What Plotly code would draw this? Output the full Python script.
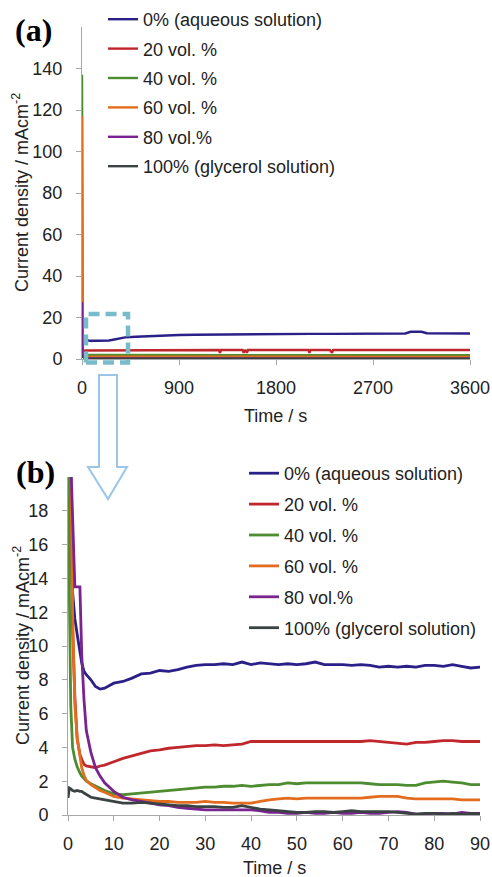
import plotly.graph_objects as go

# ---------------- data ----------------
time_early = [0, 0.3, 0.6, 1.0, 1.5, 2.0, 2.6, 3.0, 3.5, 4.0, 5.0, 6.0, 7.0, 8.0]
time_mid = list(range(10, 92, 2))
time_late = [100, 150, 200, 250, 300, 400, 500, 600, 750, 900,
             1050, 1200, 1270, 1280, 1290, 1450, 1490, 1500, 1515, 1530,
             1540, 1650, 1800, 1950, 2100, 2110, 2120, 2300, 2320, 2330,
             2500, 2700, 2850, 3000, 3050, 3150, 3200, 3400, 3600]
time_s = time_early + time_mid + time_late

cd_0 = ([25, 20, 16, 13.2, 11.6, 10.7, 9.8, 9.0, 8.5, 8.3, 8.0, 7.6, 7.45, 7.5]
        + [7.8, 7.9, 8.1, 8.35, 8.4, 8.55, 8.5, 8.6, 8.75, 8.85,
           8.9, 8.9, 8.95, 8.9, 9.05, 8.9, 9.0, 8.95, 8.9, 8.95,
           8.9, 8.95, 9.05, 8.9, 8.9, 8.9, 8.85, 8.9, 8.85, 8.75,
           8.8, 8.75, 8.8, 8.75, 8.85, 8.85, 8.8, 8.9, 8.8, 8.7,
           8.75]
        + [8.8, 8.8, 8.8, 8.9, 9.4, 10.4, 10.7, 11.0, 11.3, 11.6,
           11.7, 11.8, 11.8, 11.8, 11.8, 11.9, 11.9, 11.9, 11.9, 11.9,
           11.9, 12.0, 12.0, 12.0, 12.1, 12.1, 12.1, 12.1, 12.1, 12.1,
           12.2, 12.2, 12.2, 12.3, 13.1, 13.1, 12.4, 12.4, 12.3])

cd_20 = ([40, 28, 18, 11, 7, 4.5, 3.6, 3.3, 3.0, 2.9, 2.85, 2.8, 2.9, 2.95]
         + [3.15, 3.35, 3.5, 3.65, 3.8, 3.85, 3.95, 4.0, 4.05, 4.1,
            4.1, 4.15, 4.1, 4.15, 4.2, 4.35, 4.35, 4.35, 4.35, 4.35,
            4.35, 4.35, 4.35, 4.35, 4.35, 4.35, 4.35, 4.35, 4.4, 4.35,
            4.3, 4.25, 4.2, 4.3, 4.3, 4.35, 4.4, 4.4, 4.35, 4.35,
            4.35]
         + [4.35, 4.35, 4.35, 4.35, 4.35, 4.35, 4.35, 4.35, 4.35, 4.35,
            4.35, 4.35, 4.35, 3.0, 4.35, 4.35, 4.35, 3.0, 4.35, 3.0,
            4.35, 4.35, 4.35, 4.35, 4.35, 3.0, 4.35, 4.35, 3.0, 4.35,
            4.35, 4.35, 4.35, 4.35, 4.35, 4.35, 4.35, 4.35, 4.35])

cd_40 = ([137, 13, 6.5, 4.0, 3.3, 2.85, 2.5, 2.3, 2.15, 2.0, 1.85, 1.7, 1.55, 1.45]
         + [1.25, 1.2, 1.25, 1.3, 1.35, 1.4, 1.45, 1.5, 1.55, 1.6,
            1.65, 1.65, 1.7, 1.7, 1.75, 1.7, 1.75, 1.8, 1.8, 1.9,
            1.85, 1.9, 1.9, 1.9, 1.9, 1.9, 1.9, 1.9, 1.85, 1.8,
            1.8, 1.8, 1.75, 1.75, 1.9, 1.95, 2.0, 1.95, 1.9, 1.8,
            1.8]
         + [1.8, 1.8, 1.8, 1.8, 1.8, 1.8, 1.8, 1.8, 1.8, 1.8,
            1.8, 1.8, 1.8, 1.8, 1.8, 1.8, 1.8, 1.8, 1.8, 1.8,
            1.8, 1.8, 1.8, 1.8, 1.8, 1.8, 1.8, 1.8, 1.8, 1.8,
            1.8, 1.8, 1.8, 1.8, 1.8, 1.8, 1.8, 1.8, 1.8])

cd_60 = ([117, 45, 22, 12, 6.5, 4.6, 3.6, 2.8, 2.35, 2.05, 1.8, 1.6, 1.45, 1.35]
         + [1.1, 1.0, 0.95, 0.9, 0.85, 0.8, 0.8, 0.75, 0.75, 0.75,
            0.8, 0.75, 0.75, 0.7, 0.7, 0.7, 0.8, 0.9, 0.95, 1.0,
            0.95, 1.0, 1.0, 1.0, 1.0, 1.0, 1.0, 1.0, 1.05, 1.1,
            1.1, 1.1, 1.0, 0.95, 0.95, 0.95, 0.95, 0.95, 0.9, 0.9,
            0.9]
         + [1.0, 1.0, 1.0, 1.0, 1.0, 1.0, 1.0, 1.0, 1.0, 1.0,
            1.0, 1.0, 1.0, 1.0, 1.0, 1.0, 1.0, 1.0, 1.0, 1.0,
            1.0, 1.0, 1.0, 1.0, 1.0, 1.0, 1.0, 1.0, 1.0, 1.0,
            1.0, 1.0, 1.0, 1.0, 1.0, 1.0, 1.0, 1.0, 1.0])

cd_80 = ([27.5, 27, 21, 17.5, 13.5, 13.5, 13.5, 9.5, 6.8, 5.0, 3.7, 2.8, 2.3, 1.9]
         + [1.4, 1.05, 0.9, 0.8, 0.7, 0.6, 0.55, 0.45, 0.4, 0.35,
            0.3, 0.3, 0.3, 0.3, 0.3, 0.3, 0.25, 0.15, 0.15, 0.1,
            0.1, 0.15, 0.1, 0.1, 0.15, 0.1, 0.1, 0.15, 0.1, 0.1,
            0.15, 0.2, 0.15, 0.05, 0.05, 0.1, 0.1, 0.05, 0.15, 0.1,
            0.1]
         + [0.15, 0.15, 0.15, 0.15, 0.15, 0.15, 0.15, 0.15, 0.15, 0.15,
            0.15, 0.15, 0.15, 0.15, 0.15, 0.15, 0.15, 0.15, 0.15, 0.15,
            0.15, 0.15, 0.15, 0.15, 0.15, 0.15, 0.15, 0.15, 0.15, 0.15,
            0.15, 0.15, 0.15, 0.15, 0.15, 0.15, 0.15, 0.15, 0.15])

cd_100 = ([1.0, 1.6, 1.55, 1.45, 1.4, 1.45, 1.4, 1.4, 1.3, 1.2, 1.05, 1.0, 0.95, 0.9]
          + [0.8, 0.7, 0.7, 0.75, 0.7, 0.65, 0.6, 0.55, 0.55, 0.5,
             0.5, 0.5, 0.45, 0.45, 0.55, 0.45, 0.35, 0.3, 0.25, 0.2,
             0.15, 0.15, 0.2, 0.2, 0.15, 0.2, 0.25, 0.2, 0.2, 0.2,
             0.2, 0.15, 0.1, 0.05, 0.1, 0.1, 0.05, 0.1, 0.05, 0.1,
             0.05]
          + [0.1, 0.1, 0.1, 0.1, 0.1, 0.1, 0.1, 0.1, 0.1, 0.1,
             0.1, 0.1, 0.1, 0.1, 0.1, 0.1, 0.1, 0.1, 0.1, 0.1,
             0.1, 0.1, 0.1, 0.1, 0.1, 0.1, 0.1, 0.1, 0.1, 0.1,
             0.1, 0.1, 0.1, 0.1, 0.1, 0.1, 0.1, 0.1, 0.1])

series_names = ["0% (aqueous solution)", "20 vol. %", "40 vol. %",
                "60 vol. %", "80 vol.%", "100% (glycerol solution)"]
series_values = [cd_0, cd_20, cd_40, cd_60, cd_80, cd_100]
series_colors = ["#2b2088", "#c0272d", "#4e8c30", "#e36c1e", "#7a2490", "#3b4242"]

xticks_a = [0, 900, 1800, 2700, 3600]
yticks_a = [0, 20, 40, 60, 80, 100, 120, 140]
xticks_b = [0, 10, 20, 30, 40, 50, 60, 70, 80, 90]
yticks_b = [0, 2, 4, 6, 8, 10, 12, 14, 16, 18]

for s in series_values:
    assert len(s) == len(time_s), len(s)

# ---------------- figure ----------------
W, H = 492, 877
FONT = "Liberation Sans, Arial, sans-serif"


def px(x):
    return x / W


def py(y):
    return 1 - y / H


fig = go.Figure()
for name, vals, col in zip(series_names, series_values, series_colors):
    fig.add_trace(go.Scatter(x=time_s, y=vals, name=name, mode="lines",
                             line=dict(color=col, width=2.4),
                             xaxis="x", yaxis="y", legend="legend",
                             legendgroup=name + "a"))
for name, vals, col in zip(series_names, series_values, series_colors):
    fig.add_trace(go.Scatter(x=time_s, y=vals, name=name, mode="lines",
                             line=dict(color=col, width=2.8),
                             xaxis="x2", yaxis="y2", legend="legend2",
                             legendgroup=name + "b"))

axis_common = dict(showgrid=False, zeroline=False, showline=True,
                   linecolor="#a8a8a8", linewidth=1, ticks="outside",
                   ticklen=5, tickcolor="#a8a8a8", tickwidth=1,
                   automargin=False,
                   tickfont=dict(family=FONT, size=18, color="#222222"))

fig.update_layout(
    width=W, height=H, autosize=False,
    margin=dict(l=0, r=0, t=0, b=0, pad=0, autoexpand=False),
    paper_bgcolor="white", plot_bgcolor="white",
    xaxis=dict(domain=[px(82), px(470)], range=[0, 3600], tickvals=xticks_a,
               anchor="y", ticklabelstandoff=7, **axis_common),
    yaxis=dict(domain=[py(359), py(27)], range=[0, 160], tickvals=yticks_a,
               anchor="x", ticklabelstandoff=10, **axis_common),
    xaxis2=dict(domain=[px(68), px(480)], range=[0, 90], tickvals=xticks_b,
                anchor="y2", ticklabelstandoff=7, **axis_common),
    yaxis2=dict(domain=[py(815), py(477)], range=[0, 20], tickvals=yticks_b,
                anchor="x2", ticklabelstandoff=10, **axis_common),
    legend=dict(x=px(103), y=py(1), xanchor="left", yanchor="top",
                font=dict(family=FONT, size=18, color="#222222"),
                bgcolor="rgba(0,0,0,0)", tracegroupgap=3, itemwidth=30),
    legend2=dict(x=px(244), y=py(455), xanchor="left", yanchor="top",
                 font=dict(family=FONT, size=18, color="#222222"),
                 bgcolor="rgba(0,0,0,0)", tracegroupgap=4.5, itemwidth=30),
)

ytitle = "Current density / mAcm<sup>-2</sup>"
ann = [
    dict(text="<b>(a)</b>", x=px(33), y=py(30), font=dict(family="Liberation Serif, Times New Roman, serif", size=32, color="#000")),
    dict(text="<b>(b)</b>", x=px(35), y=py(472), font=dict(family="Liberation Serif, Times New Roman, serif", size=32, color="#000")),
    dict(text=ytitle, x=px(21), y=py(193), textangle=-90, font=dict(family=FONT, size=18, color="#222222")),
    dict(text=ytitle, x=px(21), y=py(646), textangle=-90, font=dict(family=FONT, size=18, color="#222222")),
    dict(text="Time / s", x=px(275), y=py(416), font=dict(family=FONT, size=18, color="#222222")),
    dict(text="Time / s", x=px(274), y=py(868), font=dict(family=FONT, size=18, color="#222222")),
]
for a in ann:
    a.update(xref="paper", yref="paper", showarrow=False, xanchor="center", yanchor="middle")
    fig.add_annotation(**a)

# dashed zoom box marking the first 90 s region in panel (a)
fig.add_shape(type="rect", xref="x", yref="paper", x0=37, x1=427,
              y0=py(362.5), y1=py(314),
              line=dict(color="#78bccb", width=4.5, dash="11px,6px"), layer="above")

# hollow arrow pointing from panel (a) to panel (b)
arrow_pts = [(99, 375), (117, 375), (117, 467), (127, 467), (108, 499), (88, 467), (99, 467)]
path = "M " + " L ".join(f"{px(x):.5f},{py(y):.5f}" for x, y in arrow_pts) + " Z"
fig.add_shape(type="path", xref="paper", yref="paper", path=path,
              line=dict(color="#9cc6e8", width=2), fillcolor="rgba(0,0,0,0)")

fig.write_html("out.html", config={"displayModeBar": False},
               post_script="document.body.style.margin='0px';document.body.style.overflow='hidden';")
